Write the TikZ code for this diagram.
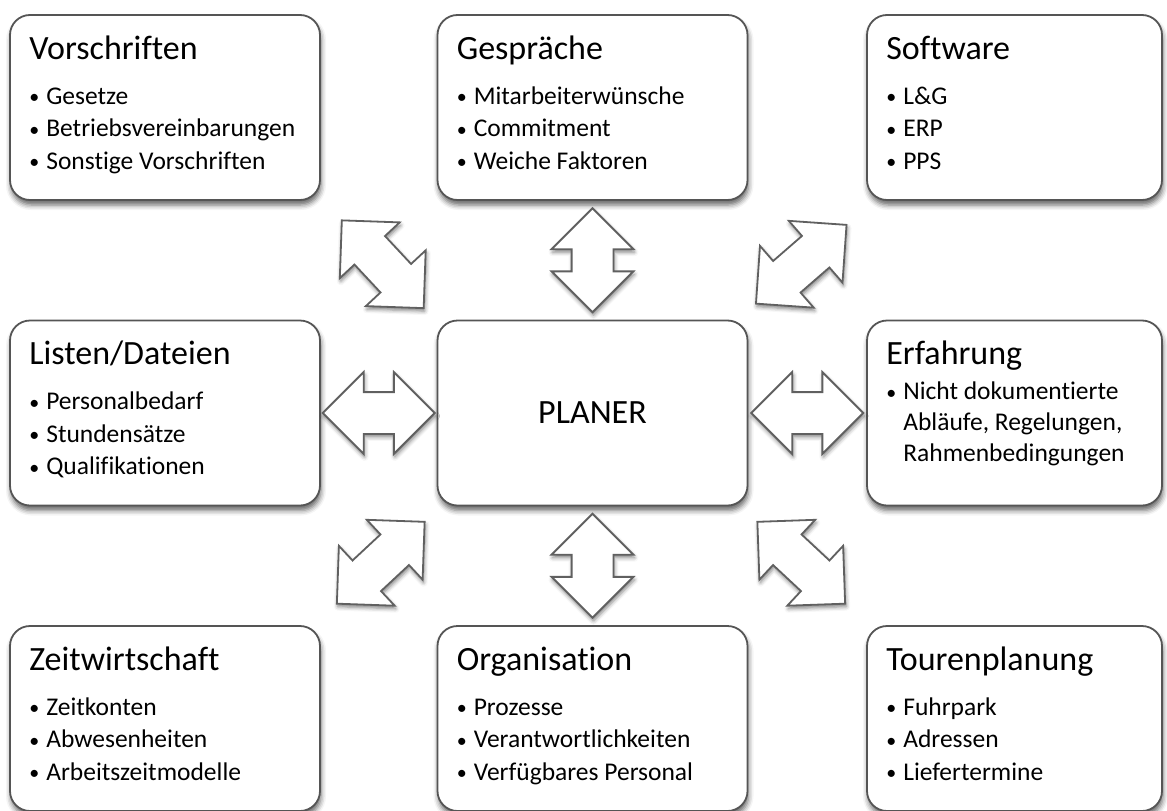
\documentclass[tikz,border=0pt]{standalone}
\usepackage{fontspec}
\setmainfont[Ligatures=NoCommon]{Carlito}
\usetikzlibrary{calc}
\usetikzlibrary{shapes.arrows}
\usetikzlibrary{shadows.blur}

\definecolor{rahmen}{HTML}{555555}
\definecolor{pfeilrand}{HTML}{606060}

\tikzset{
  kasten/.style={draw=rahmen, line width=1.8pt, fill=white, rounded corners=20pt,
    minimum width=310pt, minimum height=185pt, inner sep=0pt,
    blur shadow={shadow xshift=1pt, shadow yshift=-5pt, shadow blur radius=5pt, shadow opacity=60}},
  titel/.style={anchor=base west, inner sep=0pt, font=\fontsize{34}{40}\selectfont},
  % Anker = Grundlinie der letzten Zeile
  liste/.style={anchor=base west, inner sep=0pt, align=left, font=\fontsize{25.5}{32.5}\selectfont},
  doppelpfeil/.style={double arrow, draw=pfeilrand, line width=1.8pt, fill=white,
    double arrow tip angle=90, double arrow head extend=20pt,
    minimum width=80pt, minimum height=#1, inner xsep=0pt, inner ysep=20pt,
    blur shadow={shadow xshift=1pt, shadow yshift=-3pt, shadow blur radius=4pt, shadow opacity=50}},
  doppelpfeil/.default=112pt
}
\newcommand{\pkt}{\makebox[17pt][l]{\raisebox{0.5pt}{\fontsize{20}{20}\selectfont\textbullet}}}

\begin{document}
\begin{tikzpicture}[x=1pt, y=-1pt]
    \useasboundingbox (0,0) rectangle (1167,811);

    % obere Reihe
    \node[kasten] (vor) at (165,107.5) {};
    \node[titel] (vortitel) at ($(vor.north west)+(20,45)$) {Vorschriften};
    \node[liste] (vorliste) at ($(vor.north west)+(20,155)$) {\pkt Gesetze\\\pkt Betriebsvereinbarungen\\\pkt Sonstige Vorschriften};

    \node[kasten] (gesp) at (592.5,107.5) {};
    \node[titel] (gesptitel) at ($(gesp.north west)+(20,45)$) {Gespräche};
    \node[liste] (gespliste) at ($(gesp.north west)+(20,155)$) {\pkt Mitarbeiterwünsche\\\pkt Commitment\\\pkt Weiche Faktoren};

    \node[kasten, minimum width=295pt] (soft) at (1014.5,107.5) {};
    \node[titel] (softtitel) at ($(soft.north west)+(20,45)$) {Software};
    \node[liste] (softliste) at ($(soft.north west)+(20,155)$) {\pkt L\&G\\\pkt ERP\\\pkt PPS};

    % mittlere Reihe
    \node[kasten] (listen) at (165,413) {};
    \node[titel] (listentitel) at ($(listen.north west)+(20,45)$) {Listen/Dateien};
    \node[liste] (listenliste) at ($(listen.north west)+(20,155)$) {\pkt Personalbedarf\\\pkt Stundensätze\\\pkt Qualifikationen};

    \node[kasten, font=\fontsize{34}{40}\selectfont] (planer) at (592.5,413) {PLANER};

    \node[kasten, minimum width=295pt] (erf) at (1014.5,413) {};
    \node[titel] (erftitel) at ($(erf.north west)+(20,45)$) {Erfahrung};
    \node[liste, font=\fontsize{25.5}{31}\selectfont] (erfliste) at ($(erf.north west)+(20,142)$) {\pkt Nicht dokumentierte\\\phantom{\pkt}Abläufe, Regelungen,\\\phantom{\pkt}Rahmenbedingungen};

    % untere Reihe
    \node[kasten] (zeit) at (165,718.5) {};
    \node[titel] (zeittitel) at ($(zeit.north west)+(20,45)$) {Zeitwirtschaft};
    \node[liste] (zeitliste) at ($(zeit.north west)+(20,155)$) {\pkt Zeitkonten\\\pkt Abwesenheiten\\\pkt Arbeitszeitmodelle};

    \node[kasten] (org) at (592.5,718.5) {};
    \node[titel] (orgtitel) at ($(org.north west)+(20,45)$) {Organisation};
    \node[liste] (orgliste) at ($(org.north west)+(20,155)$) {\pkt Prozesse\\\pkt Verantwortlichkeiten\\\pkt Verfügbares Personal};

    \node[kasten, minimum width=295pt] (tour) at (1014.5,718.5) {};
    \node[titel] (tourtitel) at ($(tour.north west)+(20,45)$) {Tourenplanung};
    \node[liste] (tourliste) at ($(tour.north west)+(20,155)$) {\pkt Fuhrpark\\\pkt Adressen\\\pkt Liefertermine};

    % Doppelpfeile zum Planer
    \node[doppelpfeil=104pt, rotate=90] (p1) at ($(gesp.south)!0.5!(planer.north)$) {};
    \node[doppelpfeil=104pt, rotate=90] (p2) at ($(planer.south)!0.5!(org.north)$) {};
    \node[doppelpfeil] (p3) at ($(listen.east)!0.5!(planer.west)$) {};
    \node[doppelpfeil] (p4) at ($(planer.east)!0.5!(erf.west)$) {};
    \node[doppelpfeil=120pt, rotate=-47] (p5) at ($(vor.south east)!0.5!(planer.north west)+(4,4)$) {};
    \node[doppelpfeil=120pt, rotate=41] (p6) at ($(soft.south west)!0.5!(planer.north east)+(-6,4)$) {};
    \node[doppelpfeil=120pt, rotate=43] (p7) at ($(zeit.north east)!0.5!(planer.south west)+(2,-3)$) {};
    \node[doppelpfeil=120pt, rotate=-43] (p8) at ($(tour.north west)!0.5!(planer.south east)+(-6,-3)$) {};
\end{tikzpicture}
\end{document}
